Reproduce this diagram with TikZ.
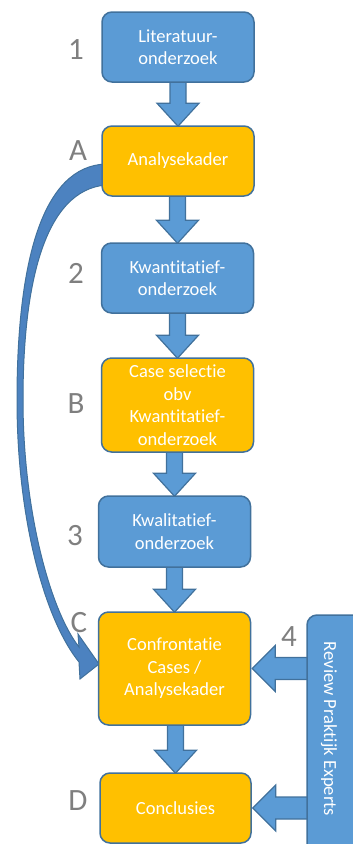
\documentclass[tikz,border=0pt]{standalone}
\usepackage{fontspec}
\setmainfont{Carlito}[RawFeature={-liga;-clig;-dlig;-calt}]
\usetikzlibrary{calc}
\pgfdeclarelayer{bg}
\pgfsetlayers{bg,main}
\definecolor{boxblue}{HTML}{5B9BD5}
\definecolor{boxorange}{HTML}{FFC000}
\definecolor{bordc}{HTML}{41719C}
\definecolor{curvefill}{HTML}{4C82C0}
\definecolor{lblgrey}{HTML}{7F7F7F}
\tikzset{
  stepbox/.style={rounded corners=10pt, draw=bordc, line width=1.5pt, text=white, align=center,
    minimum width=152pt, inner sep=0pt, font=\fontsize{18.5}{22.5}\selectfont},
  bluebox/.style={stepbox, fill=boxblue},
  orangebox/.style={stepbox, fill=boxorange},
  lbl/.style={text=lblgrey, inner sep=0pt, font=\fontsize{31}{31}\selectfont},
  barrow/.style={fill=boxblue, draw=bordc, line width=1.2pt, line join=miter},
  curvearrow/.style={fill=curvefill, draw=bordc, line width=1pt, line join=miter}
}
\newcommand\blockdown[2]{%
  \draw[barrow] ($(#1.south -| #2.north)+(-8,-2)$) -- ($(#2.north)+(-8,-22)$) -- ($(#2.north)+(-21,-22)$)
    -- ($(#2.north)+(0,1)$) -- ($(#2.north)+(21,-22)$) -- ($(#2.north)+(8,-22)$)
    -- ($(#1.south -| #2.north)+(8,-2)$) -- cycle;}
\newcommand\blockleft[2]{%
  \draw[barrow] ($(#1.west |- #2.east)+(2,-11)$) -- ($(#2.east)+(24,-11)$) -- ($(#2.east)+(24,-23)$)
    -- ($(#2.east)+(1,0)$) -- ($(#2.east)+(24,23)$) -- ($(#2.east)+(24,11)$)
    -- ($(#1.west |- #2.east)+(2,11)$) -- cycle;}
\begin{document}
\begin{tikzpicture}[x=1pt,y=-1pt]
\useasboundingbox (0,0) rectangle (353,844);
\clip (0,0) rectangle (353,844);
\node[bluebox, minimum height=70pt] (n1) at (178,47) {Literatuur-\\onderzoek};
\node[orangebox, minimum height=70pt] (nA) at (178,161) {Analysekader};
\node[bluebox, minimum height=70pt] (n2) at (177.5,278) {Kwantitatief-\\onderzoek};
\node[orangebox, minimum height=94pt] (nB) at (177.5,405) {Case selectie\\obv\\Kwantitatief-\\onderzoek};
\node[bluebox, minimum height=71pt] (n3) at (174.5,531.5) {Kwalitatief-\\onderzoek};
\node[orangebox, minimum height=113pt] (nC) at (174.5,668.5) {Confrontatie\\Cases /\\Analysekader};
\node[orangebox, minimum height=70pt, minimum width=151pt] (nD) at (175.5,808) {Conclusies};
\node[bluebox, minimum width=58pt, minimum height=245pt] (rev) at (336,737.5) {};
\node[text=white, rotate=-90, inner sep=0pt, font=\fontsize{18.5}{22.5}\selectfont] (revt) at (329,729) {Review Praktijk Experts};
\node[lbl] (l1) at (76,50) {1};
\node[lbl] (lA) at (78,151) {A};
\node[lbl] (l2) at (76,273) {2};
\node[lbl] (lB) at (76,404) {B};
\node[lbl] (l3) at (75,536) {3};
\node[lbl] (lC) at (79,623) {C};
\node[lbl] (l4) at (289,637) {4};
\node[lbl] (lD) at (78,801) {D};
\begin{pgfonlayer}{bg}
\blockdown{n1}{nA}
\blockdown{nA}{n2}
\blockdown{n2}{nB}
\blockdown{nB}{n3}
\blockdown{n3}{nC}
\blockdown{nC}{nD}
\blockleft{rev}{nC}
\blockleft{rev}{nD}
\draw[curvearrow] (106,164) .. controls (42,166) and (17,262) .. (17,400)
  .. controls (17,520) and (45,620) .. (79,662) -- (80,679) -- (99,664) -- (78,634) -- (79,647)
  .. controls (50,610) and (23,510) .. (23,400) .. controls (23,282) and (45,190) .. (106,185) -- cycle;
\end{pgfonlayer}
\end{tikzpicture}
\end{document}
